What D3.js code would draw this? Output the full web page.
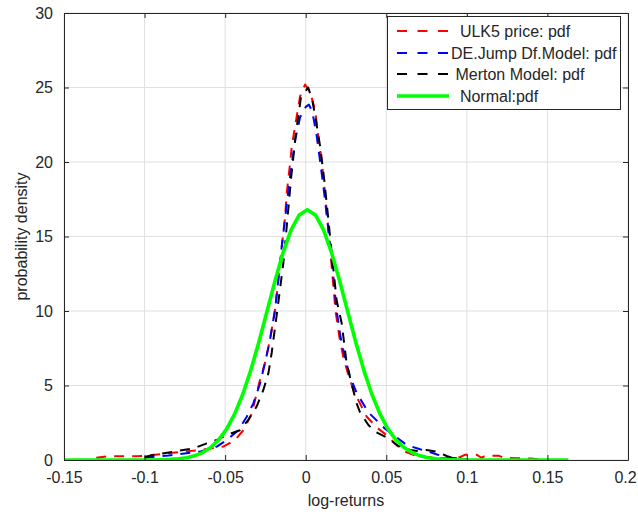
<!DOCTYPE html>
<html><head><meta charset="utf-8">
<script src="https://cdn.jsdelivr.net/npm/d3@7"></script>
<style>
body{margin:0;background:#fff;}
text{font-family:"Liberation Sans",Arial,Helvetica,sans-serif;fill:#262626;}
</style></head>
<body><svg id="chart" width="638" height="516"></svg>
<script>
// ---- data ----
const xTickValues = [-0.15,-0.1,-0.05,0,0.05,0.1,0.15,0.2];
const xTickLabels = ["-0.15","-0.1","-0.05","0","0.05","0.1","0.15","0.2"];
const yTickValues = [0,5,10,15,20,25,30];
const yTickLabels = ["0","5","10","15","20","25","30"];
const seriesNames = ["  ULK5 price: pdf","DE.Jump Df.Model: pdf"," Merton Model: pdf","  Normal:pdf"];

const ulkX = [-0.13,-0.122,-0.112,-0.105,-0.1,-0.095,-0.086,-0.078,-0.0677,-0.06,-0.0511,-0.0439,-0.0387,-0.0335,-0.0304,-0.0288,-0.0253,-0.0222,-0.019,-0.017,-0.0149,-0.0128,-0.0118,-0.0097,-0.0087,-0.0066,-0.0035,-0.0004,0.0027,0.0058,0.0078,0.0099,0.012,0.0145,0.0165,0.0185,0.021,0.0235,0.0265,0.0296,0.0327,0.0379,0.044,0.05,0.0565,0.0616,0.0668,0.073,0.08,0.09,0.096,0.099,0.106,0.109,0.112,0.12,0.123,0.13,0.14,0.145];
const ulkY = [0.15,0.25,0.25,0.25,0.28,0.33,0.44,0.54,0.65,0.75,0.9,1.34,2.0,3.1,4.5,5.2,6.5,8.05,10.1,12.1,14.3,16.3,17.9,19.9,21.0,22.4,24.4,25.2,24.7,23.5,21.7,20.1,17.9,15.0,12.5,10.0,8.2,6.8,5.7,4.7,4.0,2.9,2.2,1.68,1.0,0.56,0.34,0.22,0.15,0.12,0.2,0.36,0.36,0.15,0.3,0.28,0.15,0.12,0.1,0.05];

const djX = [-0.1,-0.095,-0.085,-0.078,-0.0656,-0.0552,-0.049,-0.0418,-0.0366,-0.0325,-0.0284,-0.0253,-0.0222,-0.019,-0.017,-0.0149,-0.0125,-0.0095,-0.0065,-0.0035,0.0,0.002,0.004,0.0065,0.009,0.0115,0.0145,0.017,0.019,0.0215,0.0245,0.0275,0.0316,0.0389,0.0492,0.0627,0.07,0.076,0.082,0.09,0.1];
const djY = [0.15,0.2,0.3,0.4,0.56,0.9,1.34,2.0,2.9,3.8,5.1,6.5,8.05,10.1,12.1,14.3,16.5,19.2,21.5,23.0,23.7,23.85,23.4,22.0,20.0,17.9,15.0,12.5,10.2,8.3,6.8,5.6,4.5,3.2,2.1,1.0,0.75,0.56,0.35,0.15,0.05];

const mertonX = [-0.1,-0.094,-0.088,-0.082,-0.0697,-0.0614,-0.0552,-0.049,-0.0408,-0.0356,-0.0304,-0.0263,-0.0232,-0.0211,-0.0176,-0.0139,-0.0115,-0.009,-0.006,-0.003,0.0015,0.004,0.0065,0.009,0.0115,0.014,0.0165,0.0192,0.0223,0.0254,0.0285,0.0316,0.0337,0.0389,0.043,0.0513,0.0565,0.0647,0.07,0.075,0.0813,0.0875,0.092,0.1];
const mertonY = [0.2,0.35,0.45,0.56,0.78,1.12,1.34,1.68,2.0,2.7,3.6,4.7,5.8,7.2,10.07,13.2,16.0,19.0,22.0,24.3,25.0,24.2,22.7,21.0,18.8,16.2,13.5,10.7,9.2,6.5,5.1,3.8,3.2,2.35,1.9,1.46,1.0,0.67,0.6,0.67,0.56,0.27,0.1,0.0];

const normX = [-0.15,-0.1,-0.089,-0.084,-0.079,-0.074,-0.069,-0.064,-0.059,-0.054,-0.049,-0.044,-0.039,-0.034,-0.029,-0.024,-0.019,-0.014,-0.009,-0.004,0.001,0.006,0.011,0.016,0.021,0.026,0.031,0.036,0.041,0.046,0.051,0.056,0.061,0.066,0.071,0.076,0.081,0.086,0.091,0.1,0.163];
const normY = [0,0,0.02,0.04,0.08,0.15,0.28,0.5,0.84,1.35,2.09,3.11,4.43,6.05,7.94,9.98,12.04,13.93,15.46,16.45,16.8,16.45,15.46,13.93,12.04,9.98,7.94,6.05,4.43,3.11,2.09,1.35,0.84,0.5,0.28,0.15,0.08,0.04,0.02,0,0];

// ---- layout ----
const svg = d3.select("#chart");
const L = 64, R = 628, T = 13, B = 460;
const x = d3.scaleLinear().domain([-0.15,0.2]).range([L,R]);
const y = d3.scaleLinear().domain([0,30]).range([B,T]);
const axisColor = "#262626";

// grid
const g = svg.append("g");
g.selectAll(".vg").data(xTickValues).enter().append("line")
  .attr("x1",d=>x(d)).attr("x2",d=>x(d)).attr("y1",T).attr("y2",B)
  .attr("stroke","#dfdfdf").attr("stroke-width",1);
g.selectAll(".hg").data(yTickValues).enter().append("line")
  .attr("y1",d=>y(d)).attr("y2",d=>y(d)).attr("x1",L).attr("x2",R)
  .attr("stroke","#dfdfdf").attr("stroke-width",1);

// axes
const xAxisB = d3.axisBottom(x).tickValues(xTickValues).tickSizeInner(-5).tickSizeOuter(0).tickFormat((d,i)=>xTickLabels[i]).tickPadding(12);
const xAxisT = d3.axisTop(x).tickValues(xTickValues).tickSizeInner(-5).tickSizeOuter(0).tickFormat("");
const yAxisL = d3.axisLeft(y).tickValues(yTickValues).tickSizeInner(-5).tickSizeOuter(0).tickFormat((d,i)=>yTickLabels[i]).tickPadding(11);
const yAxisR = d3.axisRight(y).tickValues(yTickValues).tickSizeInner(-5).tickSizeOuter(0).tickFormat("");

function styleAxis(sel){
  sel.select(".domain").attr("stroke",axisColor).attr("stroke-width",1);
  sel.selectAll(".tick line").attr("stroke",axisColor);
  sel.selectAll(".tick text").attr("fill",axisColor).style("font-size","16px").style("font-family","'Liberation Sans',Arial,sans-serif");
}

// clip
svg.append("clipPath").attr("id","clip").append("rect").attr("x",L).attr("y",T-2).attr("width",R-L).attr("height",B-T+2);

const line = d3.line().x(d=>x(d[0])).y(d=>y(d[1]));
const series = [
  {xs:ulkX, ys:ulkY, color:"#ff0000", w:2, dash:"10,8"},
  {xs:djX, ys:djY, color:"#0000ff", w:2, dash:"10,8"},
  {xs:mertonX, ys:mertonY, color:"#000000", w:2, dash:"10,8"},
  {xs:normX, ys:normY, color:"#00ff00", w:3.6, dash:null}
];
const plot = svg.append("g").attr("clip-path","url(#clip)");
series.forEach(s=>{
  const pts = s.xs.map((v,i)=>[v,s.ys[i]]);
  const p = plot.append("path").datum(pts).attr("d",line)
    .attr("fill","none").attr("stroke",s.color).attr("stroke-width",s.w)
    .attr("stroke-linejoin","round");
  if(s.dash) p.attr("stroke-dasharray",s.dash);
});

const xb = svg.append("g").attr("transform",`translate(0,${B})`).call(xAxisB).call(styleAxis);
xb.selectAll(".tick text").filter((d,i)=>i===xTickValues.length-1).attr("dx","-3");
svg.append("g").attr("transform",`translate(0,${T})`).call(xAxisT).call(styleAxis);
svg.append("g").attr("transform",`translate(${L},0)`).call(yAxisL).call(styleAxis);
svg.append("g").attr("transform",`translate(${R},0)`).call(yAxisR).call(styleAxis);

// axis labels
svg.append("text").attr("x",(L+R)/2).attr("y",506).attr("text-anchor","middle")
  .style("font-size","16px").text("log-returns");
svg.append("text").attr("transform",`translate(27,${(T+B)/2}) rotate(-90)`).attr("text-anchor","middle")
  .style("font-size","16px").text("probability density");

// legend
const lg = svg.append("g");
lg.append("rect").attr("x",387.5).attr("y",16.5).attr("width",233).attr("height",93)
  .attr("fill","#fff").attr("stroke",axisColor).attr("stroke-width",1);
const rowY = [31,53,74,96];
series.forEach((s,i)=>{
  const ln = lg.append("line").attr("x1",397).attr("x2",449).attr("y1",rowY[i]).attr("y2",rowY[i])
    .attr("stroke",s.color).attr("stroke-width",s.dash?2:3.6);
  if(s.dash) ln.attr("stroke-dasharray","10,10.5");
  lg.append("text").attr("x",451).attr("y",rowY[i]+5.5).style("font-size","16px")
    .style("white-space","pre").attr("xml:space","preserve").attr("fill","#000").text(seriesNames[i]);
});
</script></body></html>
